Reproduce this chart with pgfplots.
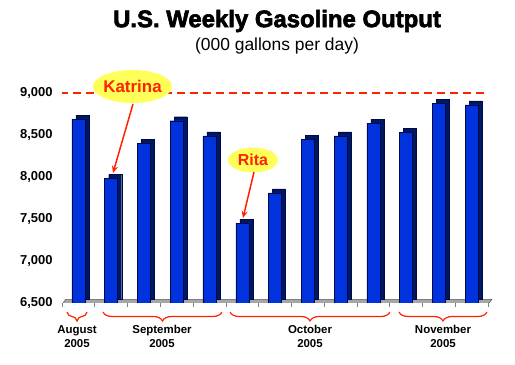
\documentclass[border=0pt]{standalone}
\usepackage{pgfplots}
\pgfplotsset{compat=1.18}
\usepackage{pgfplotstable}
\usepackage{fontspec}
\setmainfont{Liberation Sans}
\newfontfamily\titlefont{Liberation Sans}[FakeBold=2.6]
\usetikzlibrary{decorations.pathreplacing, arrows.meta}
\definecolor{barblue}{RGB}{0,51,221}
\definecolor{barside}{RGB}{0,24,100}
\definecolor{baredge}{RGB}{0,10,70}
\definecolor{annred}{RGB}{255,34,0}
\definecolor{bubble}{RGB}{255,255,90}

\pgfplotstableread{
x y
0 8690
1 7985
2 8400
3 8670
4 8490
5 7450
6 7810
7 8450
8 8490
9 8640
10 8530
11 8880
12 8860
}\gasdata

\begin{document}
\begin{tikzpicture}
\begin{axis}[
  at={(0,0)}, anchor=south west,
  scale only axis, width=431bp, height=218.4bp,
  xmin=-0.5, xmax=12.65, ymin=6500, ymax=9100,
  axis line style={draw=none},
  tick pos=left,
  tick align=outside,
  xtick={-0.5,0.5,...,12.5}, xticklabels={},
  x tick style={gray, line width=0.6bp},
  major tick length=4bp,
  ytick={6500,7000,...,9000},
  y tick style={draw=none},
  /pgf/number format/1000 sep={,},
  /pgf/number format/assume math mode=true,
  yticklabel style={font=\bfseries\fontsize{13}{13}\selectfont, xshift=-2bp},
]
% floor
\addplot[fill=gray!70, draw=gray!45!black, line width=0.4bp, forget plot]
  coordinates {(-0.5,6485) (12.5,6485) (12.62,6545) (-0.38,6545)} -- cycle;
% bar depth (side and top)
\addplot[ybar, bar width=13bp, bar shift=4bp, yshift=4bp,
  fill=barside, draw=baredge, line width=0.3bp, forget plot]
  table[x=x, y=y]{\gasdata};
% bar front
\addplot[ybar, bar width=13bp, bar shift=0bp,
  fill=barblue, draw=baredge, line width=0.4bp, forget plot]
  table[x=x, y=y]{\gasdata};
% 9000 reference line
\addplot[annred, line width=1.6bp, dash pattern=on 8bp off 5bp, forget plot]
  coordinates {(-0.55,9000) (12.5,9000)};
\end{axis}

% title
\node[font=\titlefont\bfseries\fontsize{24}{24}\selectfont] at (215bp,282bp) {U.S. Weekly Gasoline Output};
\node[font=\fontsize{17.5}{17.5}\selectfont] at (215bp,257bp) {(000 gallons per day)};

% annotations
\fill[bubble] (70.5bp,216.5bp) ellipse [x radius=39.5bp, y radius=16.5bp];
\node[text=annred, font=\bfseries\fontsize{17}{17}\selectfont] at (70.5bp,216.5bp) {Katrina};
\draw[annred, line width=1.5bp, -{Stealth[length=7bp, width=6bp]}] (71bp,199bp) -- (51bp,130bp);

\fill[bubble] (191bp,143bp) ellipse [x radius=25bp, y radius=12.5bp];
\node[text=annred, font=\bfseries\fontsize{16}{16}\selectfont] at (191bp,143bp) {Rita};
\draw[annred, line width=1.5bp, -{Stealth[length=7bp, width=6bp]}] (192bp,131bp) -- (181bp,85bp);

% month braces
\begin{scope}[annred, line width=1.2bp, decoration={brace, mirror, amplitude=9bp, aspect=0.5}]
\draw[decorate] (5bp,-9bp) -- (25bp,-9bp);
\draw[decorate] (41bp,-9bp) -- (160bp,-9bp);
\draw[decorate] (168bp,-9bp) -- (328bp,-9bp);
\draw[decorate] (337bp,-9bp) -- (425bp,-9bp);
\end{scope}
\begin{scope}[every node/.style={align=center, font=\bfseries\fontsize{11.5}{13.5}\selectfont}]
\node at (15bp,-33.5bp) {August\\2005};
\node at (100bp,-33.5bp) {September\\2005};
\node at (248bp,-33.5bp) {October\\2005};
\node at (381bp,-33.5bp) {November\\2005};
\end{scope}

\path[use as bounding box] (-62bp,-62bp) rectangle (453bp,303bp);
\end{tikzpicture}
\end{document}
